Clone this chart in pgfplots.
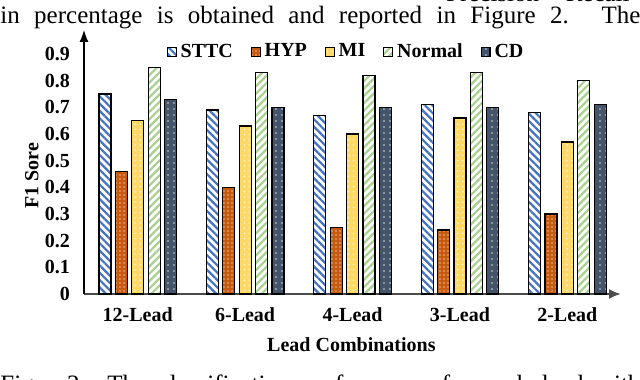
\documentclass[border=0pt]{standalone}
\usepackage{fontspec}
\setmainfont{Liberation Serif}
\usepackage{pgfplots}
\pgfplotsset{compat=1.18}
\usetikzlibrary{patterns.meta,arrows.meta}
\definecolor{cSTTC}{HTML}{4472C4}
\definecolor{cHYP}{HTML}{C55A11}
\definecolor{cHYPdot}{HTML}{F4B183}
\definecolor{cMI}{HTML}{FFD966}
\definecolor{cMIdot}{HTML}{FFF2CC}
\definecolor{cNormal}{HTML}{A9D18E}
\definecolor{cCD}{HTML}{44546A}
\begin{document}
\begin{tikzpicture}[x=1pt,y=1pt]
\begin{axis}[
  at={(42pt,42.5pt)}, anchor=south west,
  scale only axis, width=268.5pt, height=132pt,
  xmin=-0.5, xmax=4.5, ymin=0, ymax=0.99,
  axis lines=left,
  x axis line style={draw=black!70, line width=1pt, -{Latex[length=6pt,width=5pt]}},
  y axis line style={line width=0.6pt, -{Latex[length=6pt,width=4.5pt]}},
  major tick length=0pt,
  xtick={0,1,2,3,4},
  xticklabels={12-Lead,6-Lead,4-Lead,3-Lead,2-Lead},
  ytick={0,0.1,0.2,0.3,0.4,0.5,0.6,0.7,0.8,0.9},
  yticklabels={0,0.1,0.2,0.3,0.4,0.5,0.6,0.7,0.8,0.9},
  ticklabel style={font=\bfseries\fontsize{10}{12}\selectfont},
  xticklabel style={yshift=-3.5pt},
  yticklabel style={xshift=-3.5pt},
  xlabel={Lead Combinations},
  xlabel style={at={(axis description cs:0.498,-0.193)}, anchor=center, font=\bfseries\fontsize{10}{12}\selectfont},
  ylabel={F1 Sore},
  ylabel style={at={(axis description cs:-0.097,0.447)}, anchor=center, font=\bfseries\fontsize{10}{12}\selectfont},
  ybar=2.2pt, bar width=6pt,
  legend style={at={(axis description cs:0.49,0.917)}, anchor=center, draw=none, fill=none,
    legend columns=-1, font=\bfseries\fontsize{10}{12}\selectfont,
    /tikz/every even column/.append style={column sep=7pt}},
  legend image code/.code={\draw[#1, line width=0.5pt] (0pt,-2.2pt) rectangle (4.4pt,2.2pt);},
]
\addplot[draw=black, line width=0.6pt, preaction={fill=white},
  pattern={Lines[angle=-45,distance=2.6pt,line width=1.1pt]}, pattern color=cSTTC]
  coordinates {(0,0.75) (1,0.69) (2,0.67) (3,0.71) (4,0.68)};
\addplot[draw=black, line width=0.6pt, preaction={fill=cHYP},
  pattern={Dots[distance=2pt,radius=0.45pt]}, pattern color=cHYPdot]
  coordinates {(0,0.46) (1,0.40) (2,0.25) (3,0.24) (4,0.30)};
\addplot[draw=black, line width=0.6pt, preaction={fill=cMI},
  pattern={Dots[distance=2.6pt,radius=0.5pt]}, pattern color=cMIdot]
  coordinates {(0,0.65) (1,0.63) (2,0.60) (3,0.66) (4,0.57)};
\addplot[draw=black, line width=0.6pt, preaction={fill=white},
  pattern={Lines[angle=45,distance=2.6pt,line width=1.1pt]}, pattern color=cNormal]
  coordinates {(0,0.85) (1,0.83) (2,0.82) (3,0.83) (4,0.80)};
\addplot[draw=black, line width=0.6pt, preaction={fill=cCD},
  pattern={Dots[distance=3pt,radius=0.45pt]}, pattern color=white!75!cCD]
  coordinates {(0,0.73) (1,0.70) (2,0.70) (3,0.70) (4,0.71)};
\legend{STTC,HYP,MI,Normal,CD}
\end{axis}
\node[anchor=base west, inner sep=0pt, font=\fontsize{12.5}{15}\selectfont] at (0,177.5)
  {\makebox[320pt][s]{in percentage is obtained and reported in Figure 2. The}};
\node[anchor=base east, inner sep=0pt, font=\fontsize{12.5}{15}\selectfont] at (315,188.6)
  {Precision + Recall};
\node[anchor=base west, inner sep=0pt, font=\fontsize{12.5}{15}\selectfont] at (0,-6.5)
  {\makebox[320pt][s]{Fig. 2: The classification performance for each lead with}};
\pgfresetboundingbox
\path[use as bounding box] (0,0) rectangle (320,189.5);
\end{tikzpicture}
\end{document}
